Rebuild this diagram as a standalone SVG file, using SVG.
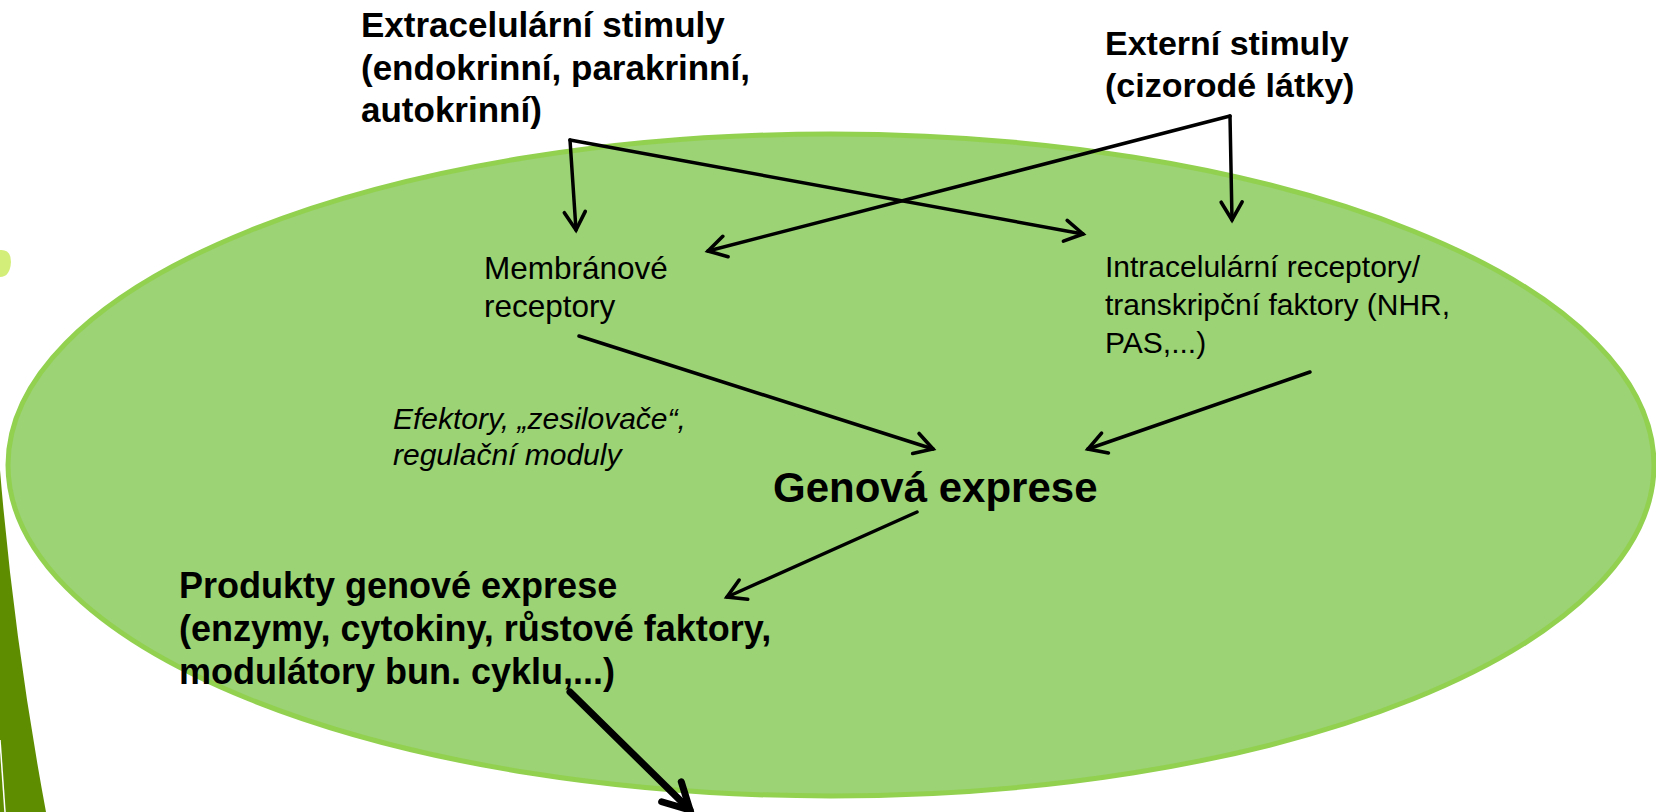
<svg xmlns="http://www.w3.org/2000/svg" width="1656" height="812" viewBox="0 0 1656 812">
<style>
.b{font-family:"Liberation Sans",Arial,sans-serif;font-weight:bold;font-size:35px;fill:#000}
.r{font-family:"Liberation Sans",Arial,sans-serif;font-size:30px;fill:#000}
.m{font-family:"Liberation Sans",Arial,sans-serif;font-size:31.5px;fill:#000}
.i{font-family:"Liberation Sans",Arial,sans-serif;font-style:italic;font-size:30px;fill:#000}
.big{font-family:"Liberation Sans",Arial,sans-serif;font-weight:bold;font-size:42px;fill:#000}
.c{fill:none;stroke:#000;stroke-width:3.5;stroke-linecap:round}
.ct{fill:none;stroke:#000;stroke-width:7;stroke-linecap:round}
</style>
<defs>
<marker id="ah" viewBox="-24 -16 30 32" refX="0" refY="0" markerWidth="30" markerHeight="32" orient="auto" markerUnits="userSpaceOnUse">
<path d="M-18,-10.5 L0,0 L-18,10.5" fill="none" stroke="#000" stroke-width="3.6" stroke-linecap="round" stroke-linejoin="miter"/>
</marker>
<marker id="aht" viewBox="-34 -22 40 44" refX="0" refY="0" markerWidth="40" markerHeight="44" orient="auto" markerUnits="userSpaceOnUse">
<path d="M-26,-14 L0,0 L-26,14" fill="none" stroke="#000" stroke-width="7" stroke-linecap="round" stroke-linejoin="miter"/>
</marker>
</defs>
<rect width="1656" height="812" fill="#fff"/>
<g id="decoration">
<path d="M0,470 Q14,640 46,812 L0,812 Z" fill="#5E8E00"/>
<path d="M0,740 L5,812" stroke="#fff" stroke-width="1.5" fill="none"/>
<path d="M0,250 Q11,249 11,262 Q10,277 0,277 Z" fill="#D4EE7A"/>
</g>
<g id="cell">
<ellipse cx="831" cy="465" rx="823" ry="331" fill="#9BD375" stroke="#92D050" stroke-width="5"/>
</g>
<g id="connectors">
<path class="c" d="M570,140 L576,230" marker-end="url(#ah)"/>
<path class="c" d="M570,140 L1083,234" marker-end="url(#ah)"/>
<path class="c" d="M1230,116 L1232,220" marker-end="url(#ah)"/>
<path class="c" d="M1230,116 L708,251" marker-end="url(#ah)"/>
<path class="c" d="M579,336 L933,449" marker-end="url(#ah)"/>
<path class="c" d="M1310,372 L1088,449" marker-end="url(#ah)"/>
<path class="c" d="M917,512 L727,597" marker-end="url(#ah)"/>
<path class="ct" d="M570,692 L690,810" marker-end="url(#aht)"/>
</g>
<g id="extracelularni">
<text class="b" x="361" y="37">Extracelulární stimuly</text>
<text class="b" x="361" y="79.5">(endokrinní, parakrinní,</text>
<text class="b" x="361" y="122">autokrinní)</text>
</g>
<g id="externi">
<text class="b" x="1105" y="55" style="font-size:34px">Externí stimuly</text>
<text class="b" x="1105" y="97" style="font-size:34px">(cizorodé látky)</text>
</g>
<g id="membranove">
<text class="m" x="484" y="279">Membránové</text>
<text class="m" x="484" y="317">receptory</text>
</g>
<g id="intracelularni">
<text class="r" x="1105" y="277">Intracelulární receptory/</text>
<text class="r" x="1105" y="315">transkripční faktory (NHR,</text>
<text class="r" x="1105" y="353">PAS,...)</text>
</g>
<g id="efektory">
<text class="i" x="393" y="429">Efektory, „zesilovače“,</text>
<text class="i" x="393" y="465">regulační moduly</text>
</g>
<g id="genova">
<text class="big" x="773" y="502">Genová exprese</text>
</g>
<g id="produkty">
<text class="b" x="179" y="598" style="font-size:36px">Produkty genové exprese</text>
<text class="b" x="179" y="641" style="font-size:36px">(enzymy, cytokiny, růstové faktory,</text>
<text class="b" x="179" y="684" style="font-size:36px">modulátory bun. cyklu,...)</text>
</g>
</svg>
